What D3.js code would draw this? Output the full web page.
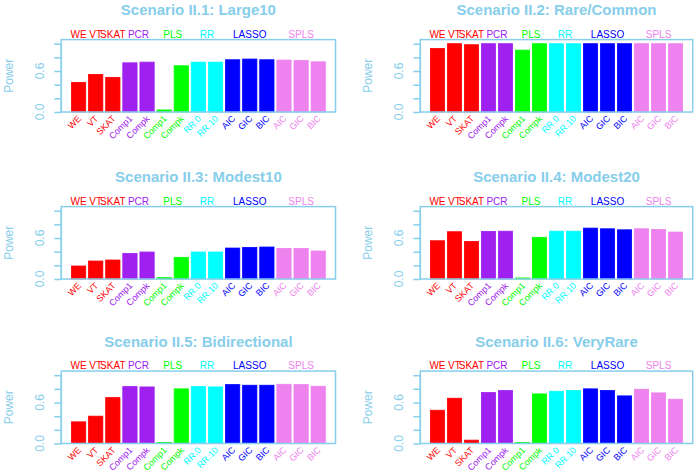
<!DOCTYPE html>
<html><head><meta charset="utf-8">
<script src="https://cdn.jsdelivr.net/npm/d3@7"></script>
<style>body{margin:0;background:#fff}svg{display:block;font-family:"Liberation Sans",Arial,sans-serif}</style>
</head><body>
<svg id="c" width="697" height="471"></svg>
<script>
const categories = ["WE","VT","SKAT","Comp1","Compk","Comp1","Compk","RR.0","RR.10","AIC","GIC","BIC","AIC","GIC","BIC"];
const groupOfBar = [0,1,2,3,3,4,4,5,5,6,6,6,7,7,7];
const groups = ["WE","VT","SKAT","PCR","PLS","RR","LASSO","SPLS"];
const groupColors = ["#FF0000","#FF0000","#FF0000","#A020F0","#00FF00","#00FFFF","#0000FF","#EE82EE"];
const titles = ["Scenario II.1: Large10","Scenario II.2: Rare/Common","Scenario II.3: Modest10","Scenario II.4: Modest20","Scenario II.5: Bidirectional","Scenario II.6: VeryRare"];
const large10 = [0.434,0.55,0.507,0.72,0.73,0.03,0.677,0.73,0.73,0.765,0.775,0.765,0.76,0.755,0.735];
const rareCommon = [0.93,1.0,0.985,1.0,1.0,0.906,1.0,1.0,1.0,1.0,1.0,1.0,1.0,1.0,1.0];
const modest10 = [0.19,0.263,0.278,0.375,0.395,0.02,0.317,0.395,0.395,0.453,0.463,0.468,0.448,0.448,0.41];
const modest20 = [0.56,0.692,0.55,0.697,0.70,0.015,0.61,0.70,0.70,0.745,0.735,0.72,0.735,0.726,0.687];
const bidirectional = [0.317,0.40,0.672,0.833,0.828,0.015,0.80,0.833,0.828,0.862,0.853,0.853,0.867,0.862,0.838];
const veryRare = [0.487,0.663,0.049,0.746,0.775,0.015,0.726,0.765,0.775,0.80,0.775,0.697,0.794,0.741,0.648];
const panelValues = [large10, rareCommon, modest10, modest20, bidirectional, veryRare];
const yTicks = [0,0.2,0.4,0.6,0.8,1.0];
const yTickLabels = [{v:0,t:"0.0"},{v:0.6,t:"0.6"}];
const yLabel = "Power";

const axisCol = "#87CEEB";
const cols = [{L:61.3,R:335.5,lab:13,tick:43.5},{L:420.3,R:692.7,lab:372,tick:402.5}];
const rowsB = [112,279,443.5];
const H = 72.4;
const svg = d3.select("#c");

panelValues.forEach((vals, p) => {
  const c = cols[p % 2], B = rowsB[Math.floor(p/2)], T = B - H;
  const g = svg.append("g");
  const x = d3.scaleBand().domain(d3.range(categories.length)).range([c.L, c.R]).paddingInner(1/6).paddingOuter(0.593);
  const y = d3.scaleLinear().domain([0,1.06]).range([B, T]);
  g.selectAll("rect.bar").data(vals).join("rect").attr("class","bar")
    .attr("x",(d,i)=>x(i)).attr("width",x.bandwidth())
    .attr("y",d=>y(d)).attr("height",d=>y(0)-y(d))
    .attr("fill",(d,i)=>groupColors[groupOfBar[i]])
    .attr("stroke",(d,i)=>groupColors[groupOfBar[i]]).attr("stroke-width",0.8);
  g.append("rect").attr("x",c.L).attr("y",T).attr("width",c.R-c.L).attr("height",H)
    .attr("fill","none").attr("stroke",axisCol).attr("stroke-width",1.5);
  const ax = g.append("g").attr("transform",`translate(${c.L},0)`)
    .call(d3.axisLeft(y).tickValues(yTicks).tickSize(7).tickFormat(""));
  ax.select(".domain").remove();
  ax.selectAll(".tick line").attr("stroke",axisCol).attr("stroke-width",1.5);
  g.append("line").attr("x1",c.L).attr("x2",c.L).attr("y1",y(1)).attr("y2",y(0)).attr("stroke",axisCol).attr("stroke-width",1.5);
  yTickLabels.forEach(t => {
    g.append("text").attr("transform",`translate(${c.tick},${y(t.v)}) rotate(-90)`)
      .attr("text-anchor","middle").attr("font-size",12).attr("fill",axisCol).text(t.t);
  });
  g.append("text").attr("transform",`translate(${c.lab},${(T+B)/2}) rotate(-90)`)
    .attr("text-anchor","middle").attr("font-size",12).attr("fill",axisCol).text(yLabel);
  g.append("text").attr("x",(c.L+c.R)/2).attr("y",T-24.5).attr("text-anchor","middle")
    .attr("font-size",15).attr("font-weight","bold").attr("fill",axisCol).text(titles[p]);
  groups.forEach((gr, gi) => {
    const idx = d3.range(categories.length).filter(i => groupOfBar[i] === gi);
    const cx = d3.mean(idx, i => x(i) + x.bandwidth()/2);
    g.append("text").attr("x",cx).attr("y",T-2).attr("text-anchor","middle")
      .attr("font-size",10).attr("fill",groupColors[gi]).text(gr);
  });
  categories.forEach((cat, i) => {
    const cx = x(i) + x.bandwidth()/2;
    g.append("text").attr("transform",`translate(${cx+1},${B+5}) rotate(-45)`)
      .attr("text-anchor","end").attr("dy","0.35em").attr("font-size",9)
      .attr("fill",groupColors[groupOfBar[i]]).text(cat);
  });
});
</script>
</body></html>
